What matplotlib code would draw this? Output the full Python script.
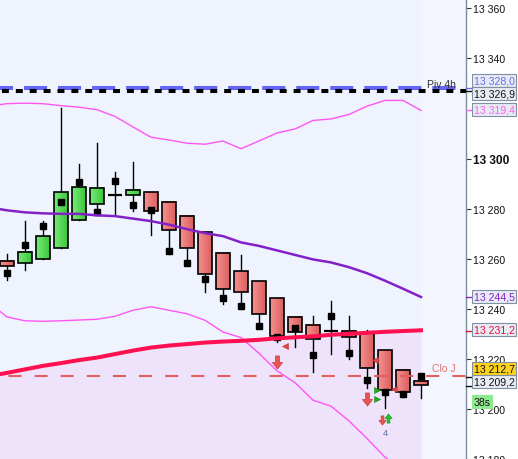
import numpy as np
import matplotlib.pyplot as plt
import matplotlib.transforms as mtransforms
from matplotlib.colors import LinearSegmentedColormap
from matplotlib.patches import Rectangle
from matplotlib.path import Path

plt.rcParams['font.family'] = ['Liberation Sans', 'DejaVu Sans']
plt.rcParams['lines.scale_dashes'] = False

# candles, index 0 = first visible candle
opens  = [13259.1, 13258.1, 13260.0, 13264.4, 13275.6, 13281.8, 13285.4, 13285.5,
          13286.7, 13282.8, 13277.2, 13270.5, 13262.2, 13255.0, 13251.1, 13244.4,
          13236.8, 13233.7, 13231.1, 13231.3, 13230.3, 13223.4, 13215.4, 13211.1]
highs  = [13261.8, 13275.0, 13275.0, 13320.1, 13297.9, 13306.3, 13294.8, 13298.7,
          13286.7, 13282.8, 13277.2, 13270.5, 13262.2, 13261.5, 13251.1, 13244.4,
          13236.8, 13237.3, 13242.9, 13237.0, 13231.5, 13223.4, 13215.4, 13213.9]
lows   = [13251.5, 13255.4, 13260.0, 13264.4, 13275.6, 13277.5, 13277.5, 13279.2,
          13269.5, 13261.8, 13257.4, 13246.7, 13242.0, 13240.0, 13232.3, 13226.7,
          13224.8, 13214.8, 13222.0, 13220.0, 13208.2, 13200.4, 13204.7, 13204.2]
closes = [13257.0, 13262.6, 13268.9, 13286.7, 13288.7, 13288.3, 13285.4, 13287.5,
          13279.2, 13271.6, 13264.2, 13253.9, 13247.8, 13246.7, 13238.0, 13229.3,
          13230.8, 13228.1, 13231.1, 13228.8, 13216.2, 13207.5, 13206.6, 13209.5]
dots   = [13254.4, 13265.3, 13272.9, 13282.8, 13290.7, 13278.8, 13291.1, 13281.6,
          13279.6, 13263.0, 13258.2, 13251.9, 13244.4, 13241.2, 13233.3, 13228.8,
          13232.5, 13221.4, 13237.2, 13222.2, 13211.5, 13206.6, 13205.8, 13213.1]

# indicator lines, index -1 .. 23
line_x = list(range(-1, 24))
ma_purple = [13280.5, 13279.3, 13278.5, 13278.1, 13277.9, 13277.9, 13277.3, 13277.0,
             13276.0, 13275.0, 13273.6, 13271.8, 13270.2, 13269.0, 13266.5, 13265.1,
             13263.3, 13261.5, 13259.7, 13258.5, 13256.6, 13254.2, 13251.2, 13248.0, 13244.7]
ma_red = [13213.1, 13214.4, 13215.8, 13217.2, 13218.3, 13219.5, 13220.5, 13221.9,
          13223.3, 13224.5, 13225.3, 13225.9, 13226.5, 13226.9, 13227.2, 13227.6,
          13228.2, 13228.6, 13229.0, 13229.6, 13230.0, 13230.4, 13230.8, 13231.1, 13231.4]
bb_upper = [13320.9, 13321.9, 13322.1, 13321.9, 13321.1, 13320.5, 13319.5, 13316.8,
            13312.6, 13308.5, 13307.4, 13306.1, 13305.7, 13307.0, 13303.9, 13307.0,
            13310.2, 13311.8, 13315.2, 13315.8, 13317.6, 13320.9, 13323.2, 13323.2, 13319.2]
bb_lower = [13242.5, 13236.7, 13235.2, 13235.0, 13235.2, 13235.5, 13235.8, 13237.0,
            13239.4, 13240.8, 13239.4, 13238.0, 13235.4, 13230.7, 13228.5, 13222.2,
            13215.2, 13210.5, 13203.5, 13201.1, 13195.2, 13188.2, 13180.7, 13175.6, 13173.6]

piv_blue = 13328.0
piv_black = 13326.9
clo_j = 13213.0

# signal markers (x index, price)
big_down = [(15, 13218.7), (20, 13204.1)]
small_down = [(20.83, 13195.6)]
small_up = [(21.17, 13196.4)]
green_right = [(20.55, 13207.6), (20.55, 13204.1)]
red_left = [(15.44, 13225.1), (20.47, 13219.7), (21.5, 13208.0)]

yticks = [13180, 13200, 13220, 13240, 13260, 13280, 13300, 13340, 13360]

# right-hand value boxes: text, value, text colour, face colour, shift (pt)
boxes = [
    ("13 328,0", 13328.0, '#6A6AF0', '#E6EBF4', 5.5),
    ("13 326,9", 13326.9, '#111111', '#E6EBF4', -1.7),
    ("13 319,4", 13319.4, '#FF5CF0', '#E6EBF4', 0.3),
    ("13 244,5", 13244.5, '#8A22C8', '#E6EBF4', 0.8),
    ("13 231,2", 13231.2, '#E8103C', '#E6EBF4', 0.8),
    ("13 209,2", 13209.2, '#111111', '#E6EBF4', 3.3),
    ("13 212,7", 13212.7, '#111111', '#FFD21E', 6.3),
]

fig = plt.figure(figsize=(5.18, 4.6), dpi=100, facecolor='white')
ax = fig.add_axes([0, 0, 466 / 518, 1])
ax.set_facecolor('#EEF3FD')

ax.axvspan(23, 26, color='#F3F6FE', zorder=0.5, lw=0)
ax.fill_between(line_x, ma_red, 13150, color='#EEE3FB', lw=0, zorder=0.8)

# candles
red_cm = LinearSegmentedColormap.from_list('r', ['#F7918E', '#D95F5F'])
green_cm = LinearSegmentedColormap.from_list('g', ['#78EC78', '#3BC63B'])
grad = np.linspace(0, 1, 32).reshape(1, -1)
w = 0.38
for i in range(len(opens)):
    o, h, l, c = opens[i], highs[i], lows[i], closes[i]
    ax.plot([i, i], [l, h], color='black', lw=1.0, zorder=3)
    lo, hi = min(o, c), max(o, c)
    if hi - lo < 0.3:
        ax.plot([i - w, i + w], [o, o], color='black', lw=1.6, zorder=4,
                solid_capstyle='butt')
        continue
    cm = green_cm if c > o else red_cm
    ax.imshow(grad, cmap=cm, extent=(i - w, i + w, lo, hi), aspect='auto',
              interpolation='bilinear', zorder=4)
    ax.add_patch(Rectangle((i - w, lo), 2 * w, hi - lo, fill=False,
                           ec='black', lw=1.2, zorder=4.1))
ax.plot(range(len(dots)), dots, 's', color='black', ms=3.8, zorder=5)

# indicators
ax.plot(line_x, bb_upper, color='#FF55F5', lw=1.0, zorder=5.5)
ax.plot(line_x, bb_lower, color='#FF55F5', lw=1.0, zorder=5.5)
ax.plot(line_x, ma_purple, color='#8420C8', lw=1.8, zorder=6)
ax.plot(line_x, ma_red, color='#FF1050', lw=2.9, zorder=6)

ax.axhline(piv_blue, color='#6464F5', lw=2.9, linestyle=(7.2, (16.6, 7.9)), zorder=6)
ax.axhline(piv_black, color='black', lw=2.9, linestyle=(8.6, (5.0, 5.0)), zorder=6.1)
ax.axhline(clo_j, color='#E06060', lw=1.5, linestyle=(12.7, (9.4, 9.4)), zorder=5.8)
ax.text(24.95, piv_black + 0.8, "Piv 4h", ha='right', va='bottom', fontsize=7.5,
        color='#333333', zorder=7)
ax.text(24.95, clo_j + 1.2, "Clo J", ha='right', va='bottom', fontsize=7.5,
        color='#E07070', zorder=7)

# signal arrows
down_path = Path([(-0.15, 0.5), (0.15, 0.5), (0.15, 0.0), (0.39, 0.0), (0, -0.5),
                  (-0.39, 0.0), (-0.15, 0.0), (-0.15, 0.5)],
                 [Path.MOVETO] + [Path.LINETO] * 6 + [Path.CLOSEPOLY])
up_path = Path(down_path.vertices * [1, -1], down_path.codes)
for x, y in big_down:
    ax.plot(x, y, marker=down_path, ms=9.4, color='#E85555', mec='#CC3C3C',
            mew=0.5, zorder=7)
for x, y in small_down:
    ax.plot(x, y, marker=down_path, ms=6.6, color='#E85555', mec='#CC3C3C',
            mew=0.5, zorder=7)
for x, y in small_up:
    ax.plot(x, y, marker=up_path, ms=6.6, color='#2DBE2D', mec='#1E9A1E',
            mew=0.5, zorder=7)
for x, y in green_right:
    ax.plot(x, y, marker='>', ms=4.6, color='#22AA22', mec='#118811', mew=0.4, zorder=7)
for x, y in red_left:
    ax.plot(x, y, marker='<', ms=4.6, color='#E04848', mec='#C03030', mew=0.4, zorder=7)
ax.text(21.0, 13190.6, "4", ha='center', va='center', fontsize=6.5,
        color='#5A6890', zorder=7)

ax.set_xlim(-7 / 18, 459 / 18)
ax.set_ylim(13181.5, 13363.7)

# right axis
for s in ['left', 'top', 'bottom']:
    ax.spines[s].set_visible(False)
ax.spines['right'].set_color('#7D8C9C')
ax.spines['right'].set_linewidth(1.0)
ax.set_xticks([])
ax.yaxis.tick_right()
ax.set_yticks(yticks)
ax.set_yticklabels([f"{t // 1000} {t % 1000:03d}" for t in yticks])
ax.tick_params(axis='y', length=3.6, width=0.8, color='#333333', pad=1.4,
               labelsize=7.6, labelcolor='#111111')
for lab, t in zip(ax.get_yticklabels(), yticks):
    if t == 13300:
        lab.set_fontweight('bold')
        lab.set_fontsize(8.6)

trans = mtransforms.blended_transform_factory(ax.transAxes, ax.transData)
for txt, val, tc, fc, dy in boxes:
    ax.plot([1.0, 1.0 + 5 / 466], [val, val], transform=trans, clip_on=False,
            color=tc, lw=1.0, zorder=8)
    ax.annotate(txt, xy=(1.0, val), xycoords=trans, xytext=(5.4, dy),
                textcoords='offset points', ha='left', va='center', fontsize=7.6,
                color=tc, zorder=9, annotation_clip=False,
                bbox=dict(boxstyle='square,pad=0.12', fc=fc, ec='#7F90A4', lw=0.8))
ax.annotate("38s", xy=(1.0, 13209.2), xycoords=trans, xytext=(5.4, -11.4),
            textcoords='offset points', ha='left', va='center', fontsize=7.6,
            color='#111111', zorder=9, annotation_clip=False,
            bbox=dict(boxstyle='square,pad=0.12', fc='#8EEA8E', ec='#8EEA8E', lw=0.8))

fig.savefig('out.png', dpi=100)
